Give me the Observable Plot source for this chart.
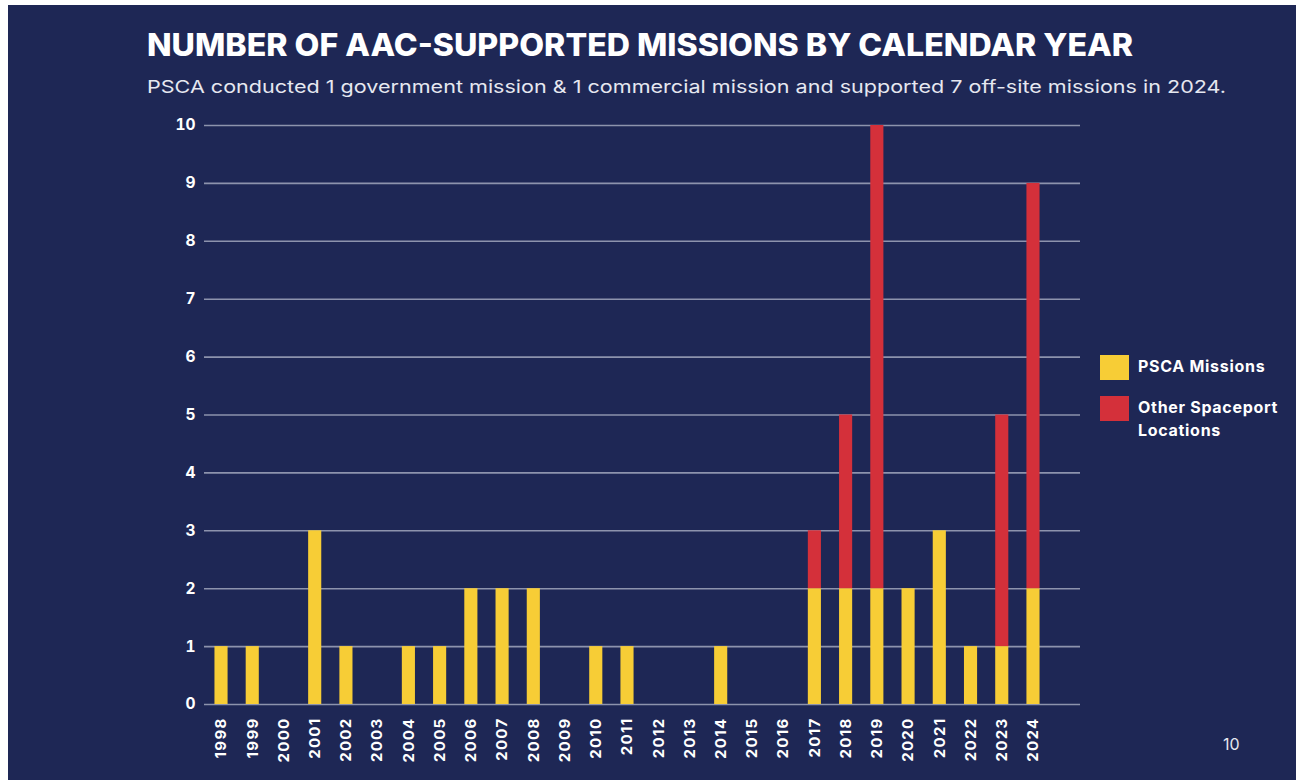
<!DOCTYPE html>
<html>
<head>
<meta charset="utf-8">
<script src="https://cdn.jsdelivr.net/npm/d3@7"></script>
<script src="https://cdn.jsdelivr.net/npm/@observablehq/plot@0.6"></script>
<style>
  html, body { margin: 0; padding: 0; background: #ffffff; }
  #page { position: absolute; left: 8px; top: 5px; width: 1288px; height: 775px; background: #1e2755; overflow: hidden; font-family: Inter, "Noto Sans", sans-serif; color: #fff; }
  #title { position: absolute; left: 139px; top: 21px; font-size: 31px; font-weight: 800; white-space: nowrap; transform-origin: 0 0; }
  #subtitle { position: absolute; left: 139px; top: 71px; font-size: 17.5px; font-weight: 400; color: #e6e8f0; white-space: nowrap; transform-origin: 0 0; }
  #chart { position: absolute; left: -8px; top: 100px; }
  #chart g[aria-label="x-axis tick label"] text { letter-spacing: 1.3px; }
  .leg { position: absolute; font-size: 16px; font-weight: 700; line-height: 23px; letter-spacing: 0.7px; }
  .sw { position: absolute; width: 29px; height: 25px; }
  #pnum { position: absolute; left: 1215px; top: 729px; font-size: 16px; color: #e6e8f0; }
</style>
</head>
<body>
<div id="page">
  <div id="title">NUMBER OF AAC-SUPPORTED MISSIONS BY CALENDAR YEAR</div>
  <div id="subtitle">PSCA conducted 1 government mission &amp; 1 commercial mission and supported 7 off-site missions in 2024.</div>
  <div id="chart"></div>
  <div id="legend"></div>
  <div id="pnum">10</div>
</div>
<script>
const years = ["1998","1999","2000","2001","2002","2003","2004","2005","2006","2007","2008","2009","2010","2011","2012","2013","2014","2015","2016","2017","2018","2019","2020","2021","2022","2023","2024"];
const psca  = [1,1,0,3,1,0,1,1,2,2,2,0,1,1,0,0,1,0,0,2,2,2,2,3,1,1,2];
const other = [0,0,0,0,0,0,0,0,0,0,0,0,0,0,0,0,0,0,0,1,3,8,0,0,0,4,7];
const seriesNames = ["PSCA Missions", "Other Spaceport Locations"];
const seriesColors = ["#f7cd36", "#d4303a"];
const yTicks = [0,1,2,3,4,5,6,7,8,9,10];

const data = [];
years.forEach((y, i) => {
  data.push({year: y, series: seriesNames[0], value: psca[i]});
  data.push({year: y, series: seriesNames[1], value: other[i]});
});

const W = 1296, H = 680;
const mL = 204, mR = W - 1080, mT = 20, mB = H - (704 - 105);

const chart = Plot.plot({
  width: W, height: H,
  marginLeft: mL, marginRight: mR, marginTop: mT, marginBottom: mB,
  style: { background: "transparent", color: "#ffffff", fontFamily: "Inter, sans-serif", overflow: "visible" },
  x: { domain: years, range: [205.4, 1048.6], paddingInner: 0.58, paddingOuter: 0.29, round: false, label: null },
  y: { domain: [0, 10], label: null },
  color: { domain: seriesNames, range: seriesColors },
  marks: [
    Plot.ruleY(yTicks, { stroke: "#8d93ad", strokeWidth: 1.6 }),
    Plot.barY(data, Plot.stackY({ x: "year", y: "value", fill: "series", order: seriesNames })),
    Plot.axisY(yTicks, { tickSize: 0, tickPadding: 9, fontSize: 15.5, fontWeight: 700, fill: "#ffffff", tickFormat: d3.format("d") }),
    Plot.axisX(years, { tickSize: 0, tickPadding: 13, tickRotate: -90, fontSize: 15, fontWeight: 700, fill: "#ffffff" })
  ]
});
document.getElementById("chart").appendChild(chart);

function fitWidth(id, target) {
  const el = document.getElementById(id);
  const w = el.getBoundingClientRect().width;
  el.style.transform = "scaleX(" + (target / w) + ")";
}
fitWidth("title", 986);
fitWidth("subtitle", 1079);

const legend = document.getElementById("legend");
const legPos = [{sy: 350, ty: 350}, {sy: 391, ty: 391}];
seriesNames.forEach((n, i) => {
  const sw = document.createElement("div");
  sw.className = "sw";
  sw.style.left = "1092px";
  sw.style.top = legPos[i].sy + "px";
  sw.style.background = seriesColors[i];
  legend.appendChild(sw);
  const t = document.createElement("div");
  t.className = "leg";
  t.style.left = "1130px";
  t.style.top = (legPos[i].ty) + "px";
  t.innerHTML = i === 1 ? "Other Spaceport<br>Locations" : n;
  legend.appendChild(t);
});
</script>
</body>
</html>
